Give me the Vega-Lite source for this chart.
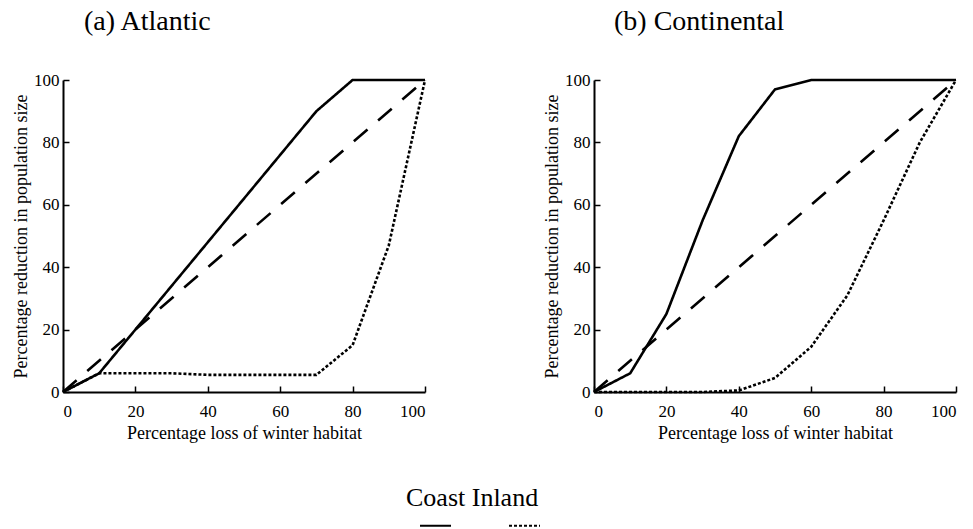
{
  "$schema": "https://vega.github.io/schema/vega-lite/v6.json",
  "background": "white",
  "padding": {"left": 12, "top": 8, "right": 3, "bottom": 0},
  "datasets": {
    "curves": [
      {"region": "Atlantic", "series": "Coast", "x": 0, "y": 0},
      {"region": "Atlantic", "series": "Coast", "x": 10, "y": 6},
      {"region": "Atlantic", "series": "Coast", "x": 20, "y": 20},
      {"region": "Atlantic", "series": "Coast", "x": 30, "y": 34},
      {"region": "Atlantic", "series": "Coast", "x": 40, "y": 48},
      {"region": "Atlantic", "series": "Coast", "x": 50, "y": 62},
      {"region": "Atlantic", "series": "Coast", "x": 60, "y": 76},
      {"region": "Atlantic", "series": "Coast", "x": 70, "y": 90},
      {"region": "Atlantic", "series": "Coast", "x": 80, "y": 100},
      {"region": "Atlantic", "series": "Coast", "x": 90, "y": 100},
      {"region": "Atlantic", "series": "Coast", "x": 100, "y": 100},
      {"region": "Atlantic", "series": "Inland", "x": 0, "y": 0},
      {"region": "Atlantic", "series": "Inland", "x": 10, "y": 6},
      {"region": "Atlantic", "series": "Inland", "x": 20, "y": 6},
      {"region": "Atlantic", "series": "Inland", "x": 30, "y": 6},
      {"region": "Atlantic", "series": "Inland", "x": 40, "y": 5.5},
      {"region": "Atlantic", "series": "Inland", "x": 50, "y": 5.5},
      {"region": "Atlantic", "series": "Inland", "x": 60, "y": 5.5},
      {"region": "Atlantic", "series": "Inland", "x": 70, "y": 5.5},
      {"region": "Atlantic", "series": "Inland", "x": 80, "y": 15},
      {"region": "Atlantic", "series": "Inland", "x": 90, "y": 47},
      {"region": "Atlantic", "series": "Inland", "x": 100, "y": 100},
      {"region": "Atlantic", "series": "Reference", "x": 0, "y": 0},
      {"region": "Atlantic", "series": "Reference", "x": 100, "y": 100},
      {"region": "Continental", "series": "Coast", "x": 0, "y": 0},
      {"region": "Continental", "series": "Coast", "x": 10, "y": 6},
      {"region": "Continental", "series": "Coast", "x": 20, "y": 25},
      {"region": "Continental", "series": "Coast", "x": 30, "y": 55},
      {"region": "Continental", "series": "Coast", "x": 40, "y": 82},
      {"region": "Continental", "series": "Coast", "x": 50, "y": 97},
      {"region": "Continental", "series": "Coast", "x": 60, "y": 100},
      {"region": "Continental", "series": "Coast", "x": 70, "y": 100},
      {"region": "Continental", "series": "Coast", "x": 80, "y": 100},
      {"region": "Continental", "series": "Coast", "x": 90, "y": 100},
      {"region": "Continental", "series": "Coast", "x": 100, "y": 100},
      {"region": "Continental", "series": "Inland", "x": 0, "y": 0},
      {"region": "Continental", "series": "Inland", "x": 10, "y": 0},
      {"region": "Continental", "series": "Inland", "x": 20, "y": 0},
      {"region": "Continental", "series": "Inland", "x": 30, "y": 0},
      {"region": "Continental", "series": "Inland", "x": 40, "y": 0.5},
      {"region": "Continental", "series": "Inland", "x": 50, "y": 4.5},
      {"region": "Continental", "series": "Inland", "x": 60, "y": 14.5},
      {"region": "Continental", "series": "Inland", "x": 70, "y": 31},
      {"region": "Continental", "series": "Inland", "x": 80, "y": 55},
      {"region": "Continental", "series": "Inland", "x": 90, "y": 80},
      {"region": "Continental", "series": "Inland", "x": 100, "y": 100},
      {"region": "Continental", "series": "Reference", "x": 0, "y": 0},
      {"region": "Continental", "series": "Reference", "x": 100, "y": 100}
    ]
  },
  "data": {"name": "curves"},
  "config": {
    "font": "Liberation Serif",
    "view": {"stroke": null},
    "axis": {
      "domainColor": "black", "domainWidth": 2,
      "ticks": true, "tickColor": "black", "tickWidth": 1.5, "tickSize": -6,
      "labelFont": "Liberation Serif", "labelFontSize": 17, "labelColor": "black",
      "titleFont": "Liberation Serif", "titleFontSize": 18, "titleFontWeight": "normal", "titleColor": "black",
      "grid": false
    },
    "axisX": {"labelPadding": 17, "titlePadding": 5},
    "axisY": {"labelPadding": 10, "titlePadding": 3},
    "title": {"font": "Liberation Serif", "fontSize": 28, "fontWeight": "normal", "color": "black", "anchor": "start", "frame": "group", "baseline": "alphabetic", "offset": 35}
  },
  "bounds": "flush",
  "spacing": 169,
  "resolve": {"scale": {"strokeDash": "shared"}},
  "hconcat": [
    {
      "width": 362, "height": 312,
      "title": {"text": "(a) Atlantic", "dx": 21},
      "layer": [
        {
          "transform": [{"filter": "datum.region === 'Atlantic' && datum.series !== 'Reference'"}],
          "mark": {"type": "line", "color": "black", "strokeWidth": 2.6},
          "encoding": {
            "x": {"field": "x", "type": "quantitative", "scale": {"domain": [0, 100], "nice": false},
                  "axis": {"values": [0, 20, 40, 60, 80, 100], "title": "Percentage loss of winter habitat"}},
            "y": {"field": "y", "type": "quantitative", "scale": {"domain": [0, 100], "nice": false},
                  "axis": {"values": [0, 20, 40, 60, 80, 100], "title": "Percentage reduction in population size"}},
            "strokeDash": {"field": "series", "type": "nominal",
              "scale": {"domain": ["Coast", "Inland"], "range": [[1, 0], [3, 2]]},
              "legend": {"title": "Coast Inland", "orient": "none", "legendX": 343, "legendY": 405, "direction": "horizontal",
                "titleFont": "Liberation Serif", "titleFontSize": 26, "titleFontWeight": "normal", "titleColor": "black", "titlePadding": -2,
                "padding": 0, "symbolType": "stroke", "symbolSize": 961, "symbolStrokeWidth": 2, "symbolStrokeColor": "black",
                "labelExpr": "''", "labelFontSize": 10, "labelOffset": 0, "columnPadding": 40, "symbolOffset": 13}}
          }
        },
        {
          "transform": [{"filter": "datum.region === 'Atlantic' && datum.series === 'Reference'"}],
          "mark": {"type": "line", "color": "black", "strokeWidth": 2.6, "strokeDash": [18, 14]},
          "encoding": {
            "x": {"field": "x", "type": "quantitative"},
            "y": {"field": "y", "type": "quantitative"}
          }
        }
      ]
    },
    {
      "width": 362, "height": 312,
      "title": {"text": "(b) Continental", "dx": 20},
      "layer": [
        {
          "transform": [{"filter": "datum.region === 'Continental' && datum.series !== 'Reference'"}],
          "mark": {"type": "line", "color": "black", "strokeWidth": 2.6},
          "encoding": {
            "x": {"field": "x", "type": "quantitative", "scale": {"domain": [0, 100], "nice": false},
                  "axis": {"values": [0, 20, 40, 60, 80, 100], "title": "Percentage loss of winter habitat"}},
            "y": {"field": "y", "type": "quantitative", "scale": {"domain": [0, 100], "nice": false},
                  "axis": {"values": [0, 20, 40, 60, 80, 100], "title": "Percentage reduction in population size"}},
            "strokeDash": {"field": "series", "type": "nominal",
              "scale": {"domain": ["Coast", "Inland"], "range": [[1, 0], [3, 2]]},
              "legend": {"title": "Coast Inland", "orient": "none", "legendX": 343, "legendY": 405, "direction": "horizontal",
                "titleFont": "Liberation Serif", "titleFontSize": 26, "titleFontWeight": "normal", "titleColor": "black", "titlePadding": -2,
                "padding": 0, "symbolType": "stroke", "symbolSize": 961, "symbolStrokeWidth": 2, "symbolStrokeColor": "black",
                "labelExpr": "''", "labelFontSize": 10, "labelOffset": 0, "columnPadding": 40, "symbolOffset": 13}}
          }
        },
        {
          "transform": [{"filter": "datum.region === 'Continental' && datum.series === 'Reference'"}],
          "mark": {"type": "line", "color": "black", "strokeWidth": 2.6, "strokeDash": [18, 14]},
          "encoding": {
            "x": {"field": "x", "type": "quantitative"},
            "y": {"field": "y", "type": "quantitative"}
          }
        }
      ]
    }
  ]
}
